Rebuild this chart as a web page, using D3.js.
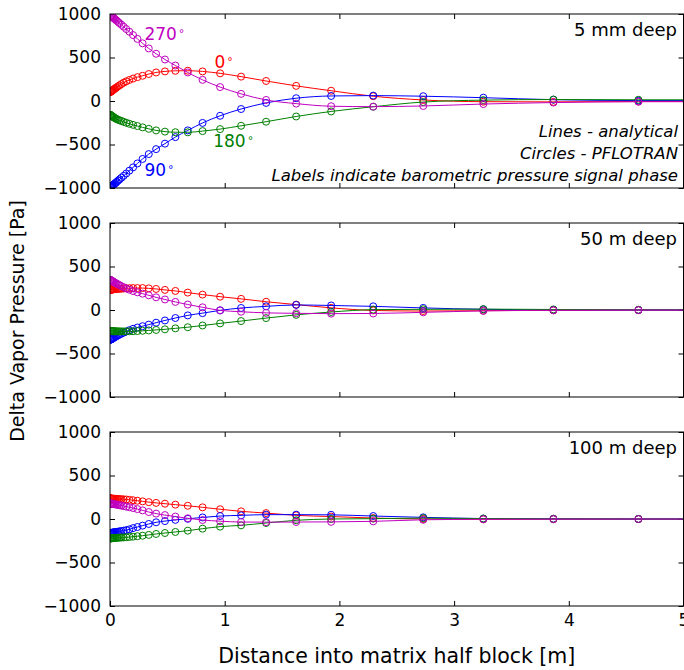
<!DOCTYPE html>
<html>
<head>
<meta charset="utf-8">
<script src="https://cdn.jsdelivr.net/npm/d3@7"></script>
<style>
  body { margin: 0; background: #fff; }
  text { font-family: "DejaVu Sans", sans-serif; }
</style>
</head>
<body>
<svg id="chart" width="684" height="670"></svg>
<script>
// Cell-centre distances of the PFLOTRAN grid [m]
const distance = [0.005, 0.006, 0.007, 0.0085, 0.010, 0.012, 0.015, 0.018, 0.021, 0.025,
  0.030, 0.035, 0.042, 0.050, 0.059, 0.071, 0.084, 0.100, 0.119, 0.142,
  0.169, 0.201, 0.239, 0.284, 0.338, 0.402, 0.479, 0.570, 0.678, 0.807,
  0.960, 1.143, 1.361, 1.623, 1.928, 2.295, 2.731, 3.255, 3.866, 4.607];
const blockHalfWidth = 5;

const phaseNames = ["0", "90", "180", "270"];
const phaseColors = ["#ff0000", "#0000ff", "#008000", "#bf00bf"];
const depthNames = ["5 mm deep", "50 m deep", "100 m deep"];

// Delta vapor pressure [Pa], 5 mm deep
const shallowP0 = [105, 106, 107, 108, 110, 112, 115, 118, 121, 125, 130, 135, 142, 150, 158, 169, 181, 195, 210, 226,
  242, 258, 274, 290, 310, 328, 340, 347, 348, 340, 318, 280, 230, 174, 118, 55, 12, -8, -10, -6];
const shallowP90 = [-992, -991, -990, -988, -987, -984, -981, -977, -974, -969, -963, -957, -949, -940, -929, -915, -900, -882, -860, -833,
  -801, -763, -718, -666, -610, -553, -490, -415, -338, -252, -170, -92, -22, 32, 58, 62, 55, 38, 15, 5];
const shallowP180 = [-161, -162, -163, -164, -166, -168, -171, -174, -177, -181, -186, -190, -196, -202, -208, -216, -222, -230, -240, -250,
  -262, -274, -288, -303, -320, -338, -352, -359, -360, -346, -323, -285, -238, -178, -120, -66, -12, 10, 17, 14];
const shallowP270 = [984, 983, 982, 981, 979, 976, 973, 970, 966, 962, 956, 950, 942, 933, 923, 909, 894, 876, 854, 827,
  796, 758, 714, 663, 604, 543, 477, 408, 328, 243, 160, 82, 12, -30, -60, -65, -57, -35, -18, -8];

// Delta vapor pressure [Pa], 50 m deep
const midP0 = [233, 233, 234, 234, 234, 235, 235, 236, 236, 237, 238, 239, 240, 241, 242, 243, 244, 245, 247, 249,
  251, 252, 252, 252, 249, 242, 231, 219, 200, 177, 153, 128, 95, 62, 25, -5, -12, -8, -4, -2];
const midP90 = [-341, -340, -339, -338, -337, -335, -333, -330, -328, -325, -321, -317, -312, -306, -299, -291, -282, -272, -260, -247,
  -232, -216, -201, -186, -168, -146, -120, -92, -62, -36, -4, 23, 42, 58, 52, 42, 24, 8, 2, 0];
const midP180 = [-241, -241, -241, -242, -242, -242, -243, -243, -243, -244, -244, -244, -245, -245, -245, -246, -246, -246, -246, -246,
  -245, -244, -242, -239, -235, -229, -222, -211, -198, -178, -154, -127, -93, -56, -23, 4, 8, 10, 6, 3];
const midP270 = [344, 343, 342, 341, 340, 338, 336, 333, 331, 328, 324, 320, 315, 309, 302, 294, 285, 274, 262, 248,
  233, 218, 203, 188, 169, 146, 121, 93, 63, 31, -4, -20, -33, -38, -42, -40, -27, -10, -3, 0];

// Delta vapor pressure [Pa], 100 m deep
const deepP0 = [235, 235, 235, 235, 234, 234, 234, 234, 233, 233, 233, 232, 232, 231, 231, 230, 229, 228, 226, 224,
  221, 216, 210, 203, 194, 185, 176, 165, 152, 134, 112, 88, 68, 42, 28, 11, 0, -3, -2, -1];
const deepP90 = [-163, -162, -162, -161, -161, -160, -159, -158, -157, -156, -155, -154, -152, -150, -148, -145, -142, -138, -134, -128,
  -119, -105, -92, -76, -57, -38, -24, -10, 2, 18, 34, 42, 50, 50, 48, 34, 19, 5, 2, 0];
const deepP180 = [-222, -222, -222, -221, -221, -221, -221, -220, -220, -219, -219, -218, -218, -217, -216, -215, -214, -213, -212, -210,
  -207, -203, -198, -192, -183, -172, -161, -149, -134, -111, -88, -73, -46, -15, 0, 4, 10, 5, 2, 1];
const deepP270 = [179, 178, 178, 177, 177, 176, 176, 175, 174, 173, 172, 171, 169, 167, 165, 162, 158, 154, 148, 142,
  135, 126, 114, 99, 80, 62, 45, 28, 8, -12, -25, -35, -36, -35, -33, -27, -9, -3, -1, 0];

const panelSeries = [
  [shallowP0, shallowP90, shallowP180, shallowP270],
  [midP0, midP90, midP180, midP270],
  [deepP0, deepP90, deepP180, deepP270]
];

const yTicks = [-1000, -500, 0, 500, 1000];
const xTicks = [0, 1, 2, 3, 4, 5];

// Phase labels on the shallow panel: [phase index, x, y] in data units
const phaseLabelPos = [[0, 0.91, 378], [1, 0.3, -865], [2, 0.9, -530], [3, 0.3, 700]];
const notes = ["Lines - analytical", "Circles - PFLOTRAN", "Labels indicate barometric pressure signal phase"];

const svg = d3.select("#chart");
const panelTops = [14, 223, 432];
const panelH = 174;
const x = d3.scaleLinear().domain([0, blockHalfWidth]).range([110, 683.5]);

panelTops.forEach((top, pi) => {
  const y = d3.scaleLinear().domain([-1000, 1000]).range([top + panelH, top]);
  const g = svg.append("g");

  const clipId = "clip" + pi;
  svg.append("clipPath").attr("id", clipId)
    .append("rect").attr("x", x(0)).attr("y", top).attr("width", x(5) - x(0)).attr("height", panelH);

  // Ticks on all four sides, pointing inward
  const left = g.append("g").attr("transform", `translate(${x(0)},0)`)
    .call(d3.axisLeft(y).tickValues(yTicks).tickSizeInner(-5).tickSizeOuter(0).tickPadding(9)
      .tickFormat(d3.format("d")));
  const right = g.append("g").attr("transform", `translate(${x(5)},0)`)
    .call(d3.axisRight(y).tickValues(yTicks).tickSizeInner(-5).tickSizeOuter(0).tickFormat(""));
  const topAx = g.append("g").attr("transform", `translate(0,${top})`)
    .call(d3.axisTop(x).tickValues(xTicks).tickSizeInner(-5).tickSizeOuter(0).tickFormat(""));
  const bottom = g.append("g").attr("transform", `translate(0,${top + panelH})`)
    .call(d3.axisBottom(x).tickValues(xTicks).tickSizeInner(-5).tickSizeOuter(0).tickPadding(8)
      .tickFormat(pi === 2 ? d3.format("d") : ""));
  [left, right, topAx, bottom].forEach(a => {
    a.select(".domain").remove();
    a.selectAll("line").attr("stroke", "#000").attr("stroke-width", 1);
    a.selectAll("text").attr("font-size", 17).attr("fill", "#000")
      .style("font-family", '"DejaVu Sans", sans-serif');
  });

  const plot = g.append("g").attr("clip-path", `url(#${clipId})`);
  const line = d3.line().x(d => x(d[0])).y(d => y(d[1])).curve(d3.curveMonotoneX);

  panelSeries[pi].forEach((vals, si) => {
    const pts = distance.map((d, i) => [d, vals[i]]);
    const linePts = [[0, vals[0]], ...pts, [blockHalfWidth, vals[vals.length - 1]]];
    plot.append("path").datum(linePts)
      .attr("d", line).attr("fill", "none")
      .attr("stroke", phaseColors[si]).attr("stroke-width", 1);
    plot.append("g").selectAll("circle").data(pts).join("circle")
      .attr("cx", d => x(d[0])).attr("cy", d => y(d[1])).attr("r", 3.5)
      .attr("fill", "none").attr("stroke", phaseColors[si]).attr("stroke-width", 1);
  });

  // Frame
  g.append("rect").attr("x", x(0)).attr("y", top)
    .attr("width", x(5) - x(0)).attr("height", panelH)
    .attr("fill", "none").attr("stroke", "#000").attr("stroke-width", 1);

  // Depth label
  g.append("text").attr("x", 677).attr("y", top + 22)
    .attr("text-anchor", "end").attr("font-size", 18).text(depthNames[pi]);

  if (pi === 0) {
    notes.forEach((t, i) => {
      g.append("text").attr("x", 678).attr("y", top + 123 + i * 22)
        .attr("text-anchor", "end").attr("font-size", 16.5)
        .attr("font-style", "italic").text(t);
    });
    phaseLabelPos.forEach(([si, px, py]) => {
      const t = g.append("text").attr("x", x(px)).attr("y", y(py))
        .attr("font-size", 17).attr("fill", phaseColors[si]).text(phaseNames[si]);
      t.append("tspan").attr("font-size", 11).attr("dy", -3).attr("dx", 2).text("\u00b0");
    });
  }
});

// Axis titles
svg.append("text").attr("transform", "translate(24,321) rotate(-90)")
  .attr("text-anchor", "middle").attr("font-size", 19).text("Delta Vapor Pressure [Pa]");
svg.append("text").attr("x", x(2.5)).attr("y", 663)
  .attr("text-anchor", "middle").attr("font-size", 20.5).text("Distance into matrix half block [m]");
</script>
</body>
</html>
